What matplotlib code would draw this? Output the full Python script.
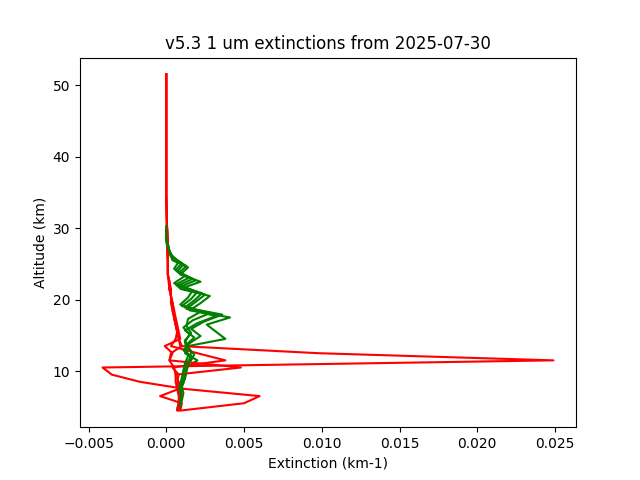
import numpy as np
import matplotlib
matplotlib.use("Agg")
import matplotlib.pyplot as plt

# Altitude grids (km)
green_alt = np.arange(4.5, 30.0, 1.0)   # 26 levels
red_alt = np.arange(4.5, 52.0, 1.0)     # 48 levels

# per-profile altitude offsets of the green retrievals
green_offsets = [0.0, 0.2, 0.4, 0.6, 0.8]

# Green profiles, 1 um extinction (km-1), 4.5 .. 29.5 km
green_1 = [0.0008, 0.0009, 0.0010, 0.0009, 0.0011, 0.0012, 0.0013, 0.0020, 0.0012, 0.0014,
           0.0038, 0.0032, 0.0026, 0.0041, 0.0015, 0.0022, 0.0028, 0.0009, 0.0022, 0.0009,
           0.0014, 0.0004, 0.0002, 0.0001, 0.0000, 0.0000]
green_2 = [0.0007, 0.0008, 0.0009, 0.0010, 0.0010, 0.0011, 0.0012, 0.0015, 0.0016, 0.0013,
           0.0018, 0.0012, 0.0020, 0.0032, 0.0013, 0.0019, 0.0025, 0.0008, 0.0019, 0.0008,
           0.0013, 0.0005, 0.0002, 0.0001, 0.0000, 0.0000]
green_3 = [0.0009, 0.0010, 0.0011, 0.0010, 0.0012, 0.0013, 0.0014, 0.0017, 0.0011, 0.0015,
           0.0022, 0.0016, 0.0024, 0.0036, 0.0012, 0.0018, 0.0023, 0.0007, 0.0017, 0.0007,
           0.0011, 0.0004, 0.0002, 0.0001, 0.0000, 0.0000]
green_4 = [0.0008, 0.0009, 0.0008, 0.0009, 0.0010, 0.0011, 0.0012, 0.0014, 0.0013, 0.0012,
           0.0015, 0.0011, 0.0017, 0.0028, 0.0010, 0.0016, 0.0020, 0.0006, 0.0015, 0.0006,
           0.0010, 0.0003, 0.0001, 0.0000, 0.0000, 0.0000]
green_5 = [0.0009, 0.0010, 0.0009, 0.0011, 0.0012, 0.0013, 0.0015, 0.0018, 0.0014, 0.0012,
           0.0016, 0.0013, 0.0014, 0.0022, 0.0009, 0.0014, 0.0017, 0.0005, 0.0012, 0.0005,
           0.0008, 0.0003, 0.0001, 0.0000, 0.0000, 0.0000]

# Red profiles, 4.5 .. 51.5 km
red_upper = [0.00008, 0.00006, 0.00004, 0.00003, 0.00002, 0.00001, 0.0, 0.0, 0.0, 0.0,
             0.0, 0.0, 0.0, 0.0, 0.0, 0.0, 0.0, 0.0, 0.0, 0.0, 0.0, 0.0, 0.0]  # 28.5 .. 50.5
red_1 = ([0.0010, 0.0050, 0.0060, 0.0012, -0.0017, -0.0035, -0.0041, 0.0249, 0.0098, 0.0009,
          0.0008, 0.0007, 0.0006, 0.0005, 0.0005, 0.0004, 0.0003, 0.0002, 0.00015, 0.0001,
          0.0001, 0.0001, 0.0001, 0.00008] + red_upper + [0.0])
red_2 = ([0.0009, 0.0010, -0.0004, 0.0008, 0.0007, 0.0008, 0.0004, 0.0038, 0.0020, 0.0003,
          0.0006, 0.0007, 0.0006, 0.0005, 0.0004, 0.0004, 0.0003, 0.0002, 0.0002, 0.0001,
          0.0001, 0.0001, 0.00008, 0.00006] + red_upper + [0.0])
red_3 = ([0.0008, 0.0009, 0.0010, 0.0009, 0.0008, 0.0006, 0.0048, 0.0002, 0.0004, -0.0001,
          0.0009, 0.0008, 0.0007, 0.0006, 0.0005, 0.0004, 0.0003, 0.0003, 0.0002, 0.0001,
          0.0001, 0.0001, 0.00008, 0.00006] + red_upper + [0.0])
red_4 = ([0.0007, 0.0008, 0.0008, 0.0007, 0.0006, 0.0006, 0.0005, 0.0002, 0.0003, 0.0010,
          0.0008, 0.0007, 0.0006, 0.0005, 0.0004, 0.0003, 0.0003, 0.0002, 0.0002, 0.0001,
          0.0001, 0.0001, 0.00008, 0.00006] + red_upper + [0.0])

greens = [green_1, green_2, green_3, green_4, green_5]
reds = [red_1, red_2, red_3, red_4]

fig, ax = plt.subplots(figsize=(6.4, 4.8), dpi=100)

for i, g in enumerate(greens):
    ax.plot(g, green_alt + green_offsets[i], color='green')
    if i < len(reds):
        ax.plot(reds[i], red_alt, color='red')

ax.set_xlabel("Extinction (km-1)")
ax.set_ylabel("Altitude (km)")
ax.set_title("v5.3 1 um extinctions from 2025-07-30")

fig.savefig("out.png")
